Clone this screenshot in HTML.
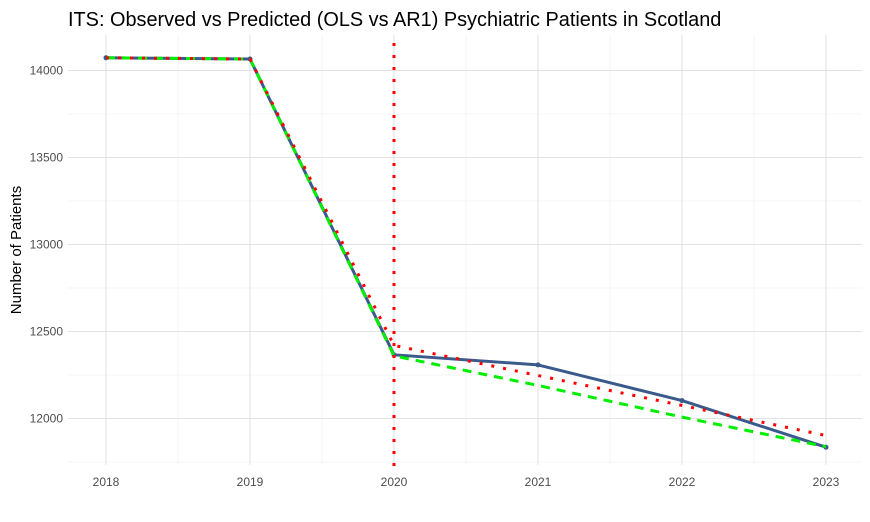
<!DOCTYPE html>
<html><head><meta charset="utf-8"><style>
body{margin:0;background:#fff;font-family:"Liberation Sans",sans-serif}
</style></head><body>
<svg id="c" width="870" height="517" xmlns="http://www.w3.org/2000/svg" font-family="Liberation Sans, sans-serif">
<rect width="870" height="517" fill="#fff"/>
<text x="68" y="26" font-size="19.9" fill="#000">ITS: Observed vs Predicted (OLS vs AR1) Psychiatric Patients in Scotland</text>
<text transform="translate(21,250) rotate(-90)" text-anchor="middle" font-size="15" fill="#000">Number of Patients</text>
<g id="grid"></g><g id="marks"></g><g id="ticks"></g>
</svg>
<script>
const years=[2018,2019,2020,2021,2022,2023];
const observed=[14073,14066,12366,12308,12103,11835];
const olsPred=[14073,14066,12420,12247,12075,11902];
const ar1Pred=[14073,14066,12360,12190,12008,11838];
const yTicks=[12000,12500,13000,13500,14000];
const interventionYear=2020;
const ns="http://www.w3.org/2000/svg";
const X=v=>106+(v-2018)*144;
const Y=v=>418.5-(v-12000)*87/500;
const L=68,R=862,T=35,B=465;
function mk(tag,attrs,parent){const e=document.createElementNS(ns,tag);for(const k in attrs)e.setAttribute(k,attrs[k]);document.getElementById(parent).appendChild(e);return e;}
for(let v=11750;v<=14250;v+=250){if(v%500===0)continue;const y=Y(v);if(y<T||y>B)continue;const g=mk('line',{x1:L,x2:R,y1:y,y2:y,stroke:'#ebebeb','stroke-width':0.6},'grid');}
for(let i=0;i<years.length-1;i++){const x=X(years[i]+0.5);const g=mk('line',{x1:x,x2:x,y1:T,y2:B,stroke:'#ebebeb','stroke-width':0.6},'grid');}
yTicks.forEach(v=>{const y=Y(v);const g=mk('line',{x1:L,x2:R,y1:y,y2:y,stroke:'#e3e3e3','stroke-width':1.1},'grid');
const t=mk('text',{x:63,y:y+4,'text-anchor':'end','font-size':12,fill:'#4d4d4d'},'ticks');t.textContent=v;});
years.forEach(v=>{const x=X(v);const g=mk('line',{x1:x,x2:x,y1:T,y2:B,stroke:'#e3e3e3','stroke-width':1.1},'grid');
const t=mk('text',{x:x,y:486,'text-anchor':'middle','font-size':12,fill:'#4d4d4d'},'ticks');t.textContent=v;});
const pts=a=>a.map((v,i)=>X(years[i])+','+Y(v)).join(' ');
let p=mk('polyline',{points:pts(observed),fill:'none',stroke:'#3a5a8c','stroke-width':3,'stroke-linejoin':'round'},'marks');

observed.forEach((v,i)=>{const c=mk('circle',{cx:X(years[i]),cy:Y(v),r:2.5,fill:'#3a5a8c'},'marks');});
p=mk('polyline',{points:pts(ar1Pred),fill:'none',stroke:'#00ee00','stroke-width':3,'stroke-dasharray':'9 7'},'marks');

p=mk('polyline',{points:pts(olsPred),fill:'none',stroke:'#ff0000','stroke-width':3,'stroke-dasharray':'3 9'},'marks');

const xi=X(interventionYear);
p=mk('line',{x1:xi,x2:xi,y1:T+8,y2:B+2,stroke:'#ff0000','stroke-width':3,'stroke-dasharray':'3 9'},'marks');

</script>
</body></html>
